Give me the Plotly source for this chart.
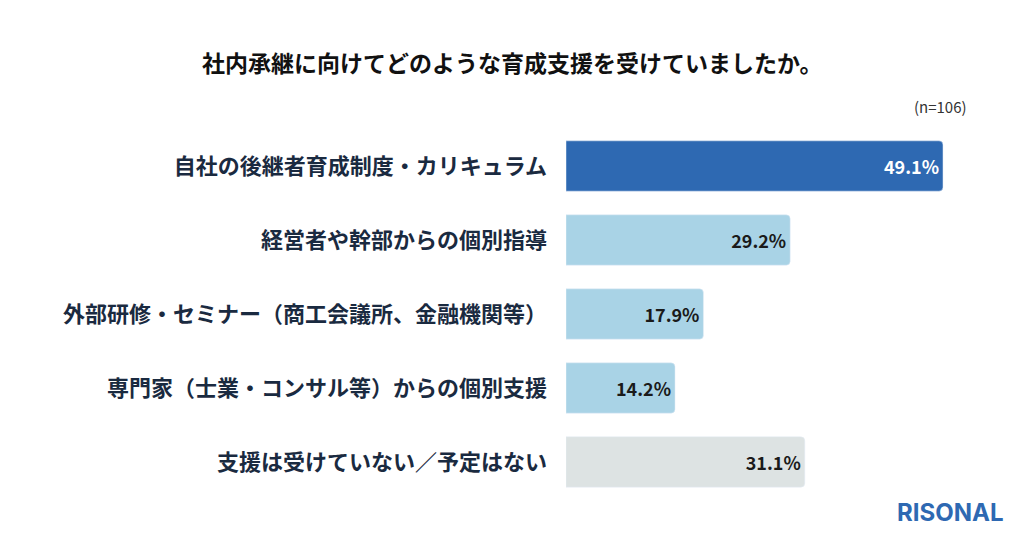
import plotly.graph_objects as go

categories = ['自社の後継者育成制度・カリキュラム', '経営者や幹部からの個別指導',
              '外部研修・セミナー（商工会議所、金融機関等）',
              '専門家（士業・コンサル等）からの個別支援', '支援は受けていない／予定はない']
values = [49.1, 29.2, 17.9, 14.2, 31.1]
labels = [f'<b>{v}%</b>' for v in values]

colors = ['#2e69b2', '#a9d3e6', '#a9d3e6', '#a9d3e6', '#dde3e3']
text_colors = ['white', '#1a1a1a', '#1a1a1a', '#1a1a1a', '#1a1a1a']

font = 'Noto Sans CJK JP'
L, R, T, B = 566, 5, 129, 37
pw, ph = 1024 - L - R, 536 - T - B
def px(x): return (x - L) / pw
def py(y): return (536 - B - y) / ph

fig = go.Figure(go.Bar(
    y=categories, x=values, orientation='h',
    marker=dict(color=colors, cornerradius=4),
    text=labels, textposition='inside', insidetextanchor='end',
    textfont=dict(family=font, size=18, color=text_colors),
    hoverinfo='skip',
))

fig.update_layout(
    width=1024, height=536,
    margin=dict(l=L, r=R, t=T, b=B, autoexpand=False),
    paper_bgcolor='white', plot_bgcolor='white',
    bargap=0.32, showlegend=False, uniformtext=dict(minsize=10, mode='show'),
    font=dict(family=font, color='#1a2a40'),
    xaxis=dict(range=[0, 59], visible=False),
    yaxis=dict(autorange='reversed', ticks='', ticklabelstandoff=18,
               tickfont=dict(family=font, size=22, color='#1a2a40', weight='bold'),
               showline=False, showgrid=False),
    annotations=[
        dict(text='<b>社内承継に向けてどのような育成支援を受けていましたか。</b>',
             x=px(512), y=py(62), xref='paper', yref='paper', showarrow=False,
             xanchor='center', yanchor='middle',
             font=dict(size=23, color='#111111')),
        dict(text='(n=106)', x=px(940), y=py(107), xref='paper', yref='paper',
             xanchor='center', yanchor='middle',
             showarrow=False, font=dict(size=15, color='#333333')),
        dict(text='<b>RISONAL</b>', x=px(950), y=py(512), xref='paper', yref='paper',
             xanchor='center', yanchor='middle',
             showarrow=False, font=dict(size=24, color='#2e69b2', family='Inter')),
    ],
)

fig.write_html('out.html', config={'displayModeBar': False},
               post_script="document.body.style.margin='0';")
